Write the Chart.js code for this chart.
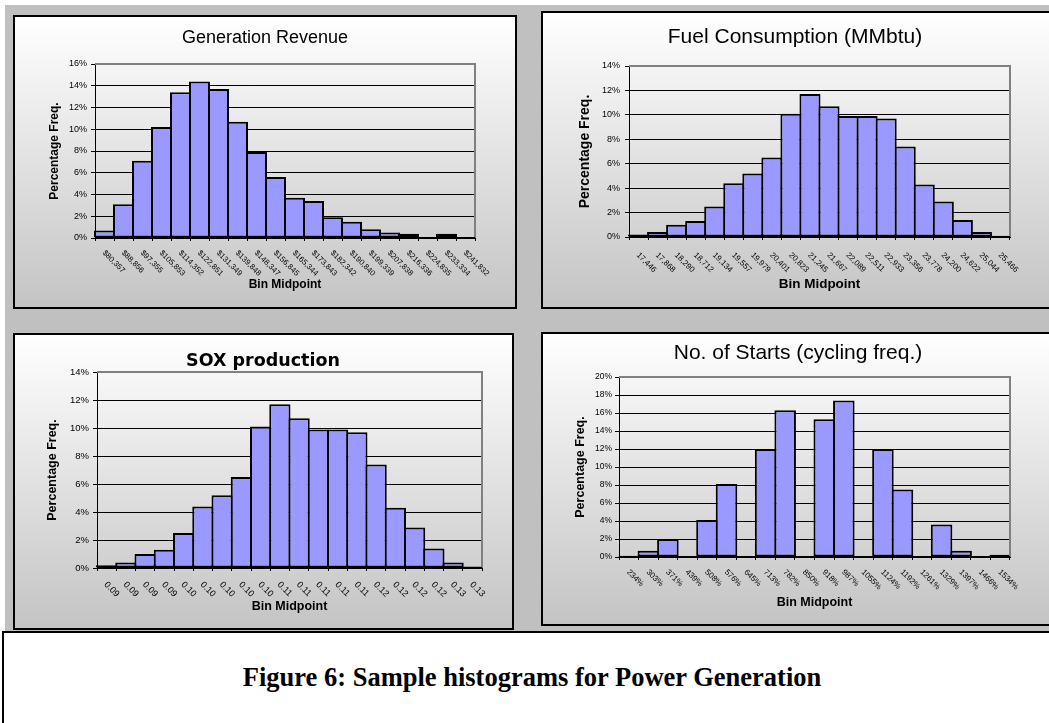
<!DOCTYPE html>
<html>
<head>
<meta charset="utf-8">
<title>Sample histograms for Power Generation</title>
<script src="https://cdn.jsdelivr.net/npm/chart.js@4.4.0/dist/chart.umd.min.js"></script>
<style>
    html, body { margin: 0; padding: 0; background: #fff; overflow: hidden; }
    body { width: 1049px; height: 723px; position: relative; }
    #bg { position: absolute; left: 5px; top: 5px; width: 1050px; height: 630px; background: #c0c0c0; }
    .panel {
        position: absolute;
        box-sizing: border-box;
        border: 2px solid #000;
        background: linear-gradient(#ffffff, #c4c4c4);
    }
    .panel canvas { position: absolute; left: 0; top: 0; }
    #caption {
        position: absolute; left: 2px; top: 631px; width: 1060px; height: 100px;
        box-sizing: border-box; border-top: 2px solid #000; border-left: 2px solid #000;
        background: #fff;
    }
    #caption div {
        position: absolute; left: 228px; top: 29px; width: 600px; text-align: center;
        font-family: "Liberation Serif", "Times New Roman", serif; font-weight: bold;
        font-size: 26.5px; line-height: 30px; color: #000;
    }
</style>
</head>
<body>
<div id="bg"></div>
<div class="panel" style="left:13px; top:15px; width:504px; height:294px;"><canvas id="revenue"></canvas></div>
<div class="panel" style="left:541px; top:11px; width:512px; height:298px;"><canvas id="fuel"></canvas></div>
<div class="panel" style="left:13px; top:333px; width:501px; height:297px;"><canvas id="sox"></canvas></div>
<div class="panel" style="left:541px; top:332px; width:512px; height:294px;"><canvas id="starts"></canvas></div>
<div id="caption"><div>Figure 6: Sample histograms for Power Generation</div></div>

<script>

// bin midpoints and percentage frequencies (%)
const revenueBins = ['$80,357', '$88,856', '$97,355', '$105,853', '$114,352', '$122,851', '$131,349',
    '$139,848', '$148,347', '$156,845', '$165,344', '$173,843', '$182,342', '$190,840', '$199,339',
    '$207,838', '$216,336', '$224,835', '$233,334', '$241,832'];
const revenueFreq = [0.7, 3.1, 7.1, 10.2, 13.4, 14.4, 13.7, 10.7, 7.9, 5.6, 3.7, 3.4, 1.9, 1.5, 0.8, 0.5, 0.4, 0.1, 0.4, 0.1];

const fuelBins = ['17,446', '17,868', '18,290', '18,712', '19,134', '19,557', '19,979', '20,401', '20,823',
    '21,245', '21,667', '22,089', '22,511', '22,933', '23,356', '23,778', '24,200', '24,622', '25,044', '25,466'];
const fuelFreq = [0.2, 0.4, 1.0, 1.3, 2.5, 4.4, 5.2, 6.5, 10.1, 11.7, 10.7, 9.9, 9.9, 9.7, 7.4, 4.3, 2.9, 1.4, 0.4, 0.1];

const soxBins = ['0.09', '0.09', '0.09', '0.09', '0.10', '0.10', '0.10', '0.10', '0.10', '0.11',
    '0.11', '0.11', '0.11', '0.11', '0.12', '0.12', '0.12', '0.12', '0.13', '0.13'];
const soxFreq = [0.2, 0.4, 1.0, 1.3, 2.5, 4.4, 5.2, 6.5, 10.1, 11.7, 10.7, 9.9, 9.9, 9.7, 7.4, 4.3, 2.9, 1.4, 0.4, 0.1];

const startsBins = ['234%', '303%', '371%', '439%', '508%', '576%', '645%', '713%', '782%', '850%',
    '918%', '987%', '1055%', '1124%', '1192%', '1261%', '1329%', '1397%', '1466%', '1534%'];
const startsFreq = [0.15, 0.7, 2.0, 0, 4.1, 8.1, 0, 12.0, 16.3, 0, 15.3, 17.4, 0, 12.0, 7.5, 0, 3.6, 0.7, 0, 0.25];

// y axis range (%)
const revenueTicks = [0, 16];
const fuelTicks = [0, 14];
const soxTicks = [0, 14];
const startsTicks = [0, 20];

const SANS = '"Liberation Sans", Arial, sans-serif';

// draws the panel title, the clockwise x labels and the grey plot frame
const excelLook = {
    id: 'excelLook',
    afterDatasetsDraw(chart) {
        const ctx = chart.ctx;
        const a = chart.chartArea;
        ctx.save();
        ctx.strokeStyle = '#808080';
        ctx.lineWidth = 2;
        ctx.beginPath();
        ctx.moveTo(a.left, a.top);
        ctx.lineTo(a.right, a.top);
        ctx.lineTo(a.right, a.bottom);
        ctx.stroke();
        // bars sit a pixel above the axis otherwise
        ctx.fillStyle = '#000';
        ctx.fillRect(a.left, Math.round(a.bottom) - 1, a.right - a.left, 2);
        ctx.restore();
    },
    afterDraw(chart, args, opts) {
        const ctx = chart.ctx;
        const xs = chart.scales.x;
        ctx.save();
        ctx.fillStyle = '#000';
        ctx.textAlign = 'center';
        ctx.textBaseline = 'middle';
        ctx.font = opts.titleFont;
        ctx.fillText(opts.title, opts.titleX, opts.titleY);

        ctx.font = opts.labelFont;
        ctx.textAlign = 'left';
        ctx.textBaseline = 'top';
        const labels = chart.data.labels;
        for (let i = 0; i < labels.length; i++) {
            const x = xs.getPixelForTick(i) + opts.labelDx;
            const y = xs.top + opts.labelDy;
            ctx.save();
            ctx.translate(x, y);
            ctx.rotate(Math.PI / 4);
            ctx.fillText(labels[i], 0, 0);
            ctx.restore();
        }
        ctx.restore();
    }
};

function makeHist(id, labels, values, yRange, p) {
    const canvas = document.getElementById(id);
    canvas.width = p.w;
    canvas.height = p.h;
    canvas.style.width = p.w + 'px';
    canvas.style.height = p.h + 'px';

    const areaW = p.w - p.left - p.right;
    const catW = areaW / labels.length;

    return new Chart(canvas, {
        type: 'bar',
        data: {
            labels: labels,
            datasets: [{
                data: values,
                backgroundColor: '#9999ff',
                borderColor: '#000',
                borderWidth: 2,
                borderSkipped: false,
                barPercentage: (catW + 2) / catW,
                categoryPercentage: 1,
                clip: 3
            }]
        },
        options: {
            responsive: false,
            animation: false,
            events: [],
            layout: { padding: { left: 0, top: p.top, right: p.right, bottom: 0 } },
            plugins: {
                legend: { display: false },
                tooltip: { enabled: false },
                excelLook: {
                    title: p.title, titleFont: p.titleFont, titleX: p.titleX, titleY: p.titleY,
                    labelFont: p.labelFont, labelDx: 2, labelDy: p.labelDy
                }
            },
            scales: {
                x: {
                    offset: true,
                    grid: { display: true, offset: true, drawOnChartArea: false, drawTicks: true,
                        tickLength: 3, tickColor: '#000', tickWidth: 1 },
                    border: { color: '#000', width: 1 },
                    ticks: { display: false },
                    title: {
                        display: true, text: 'Bin Midpoint', color: '#000',
                        font: { family: SANS, size: p.xTitleSize, weight: 'bold', lineHeight: 1.2 },
                        padding: { top: 0, bottom: p.h - p.xTitleY - p.xTitleSize * 0.6 }
                    },
                    afterFit: function(s) { s.height = p.h - p.bottom; }
                },
                y: {
                    min: yRange[0],
                    max: yRange[1],
                    grid: { color: '#000', lineWidth: 1, drawTicks: true, tickLength: 4, tickColor: '#000' },
                    border: { color: '#000', width: 1 },
                    ticks: {
                        stepSize: 2,
                        color: '#000',
                        padding: p.tickPad,
                        font: { family: SANS, size: p.yTickSize },
                        callback: function(v) { return v + '%'; }
                    },
                    title: {
                        display: true, text: 'Percentage Freq.', color: '#000',
                        font: { family: SANS, size: p.yTitleSize, weight: 'bold', lineHeight: 1.2 },
                        padding: { top: p.yTitleX - p.yTitleSize * 0.6, bottom: 0 }
                    },
                    afterFit: function(s) { s.width = p.left; }
                }
            }
        },
        plugins: [excelLook]
    });
}

// canvas geometry: chart area edges (left, top, right margin, bottom edge) in canvas px
makeHist('revenue', revenueBins, revenueFreq, revenueTicks, {
    w: 500, h: 290, left: 80, top: 47, right: 40, bottom: 221,
    title: 'Generation Revenue', titleFont: '18px ' + SANS, titleX: 250, titleY: 21,
    labelFont: '7.8px ' + SANS, labelDy: 11,
    yTickSize: 9, tickPad: 4, yTitleSize: 12, yTitleX: 40, xTitleSize: 12, xTitleY: 268
});

makeHist('fuel', fuelBins, fuelFreq, fuelTicks, {
    w: 508, h: 294, left: 86, top: 53, right: 41, bottom: 224,
    title: 'Fuel Consumption (MMbtu)', titleFont: '21px ' + SANS, titleX: 252, titleY: 24,
    labelFont: '8px ' + SANS, labelDy: 14,
    yTickSize: 9, tickPad: 5, yTitleSize: 14, yTitleX: 42, xTitleSize: 13.5, xTitleY: 271
});

makeHist('sox', soxBins, soxFreq, soxTicks, {
    w: 497, h: 293, left: 82, top: 37, right: 30, bottom: 233,
    title: 'SOX production', titleFont: 'bold 17.5px "DejaVu Sans", sans-serif', titleX: 248, titleY: 26,
    labelFont: '9px ' + SANS, labelDy: 12,
    yTickSize: 9.5, tickPad: 4, yTitleSize: 12.5, yTitleX: 38, xTitleSize: 12.5, xTitleY: 272
});

makeHist('starts', startsBins, startsFreq, startsTicks, {
    w: 508, h: 290, left: 76, top: 43, right: 41, bottom: 223,
    title: 'No. of Starts (cycling freq.)', titleFont: '21px ' + SANS, titleX: 255, titleY: 19,
    labelFont: '8px ' + SANS, labelDy: 11,
    yTickSize: 8.5, tickPad: 3, yTitleSize: 12.5, yTitleX: 38, xTitleSize: 12.5, xTitleY: 269
});

</script>
</body>
</html>
